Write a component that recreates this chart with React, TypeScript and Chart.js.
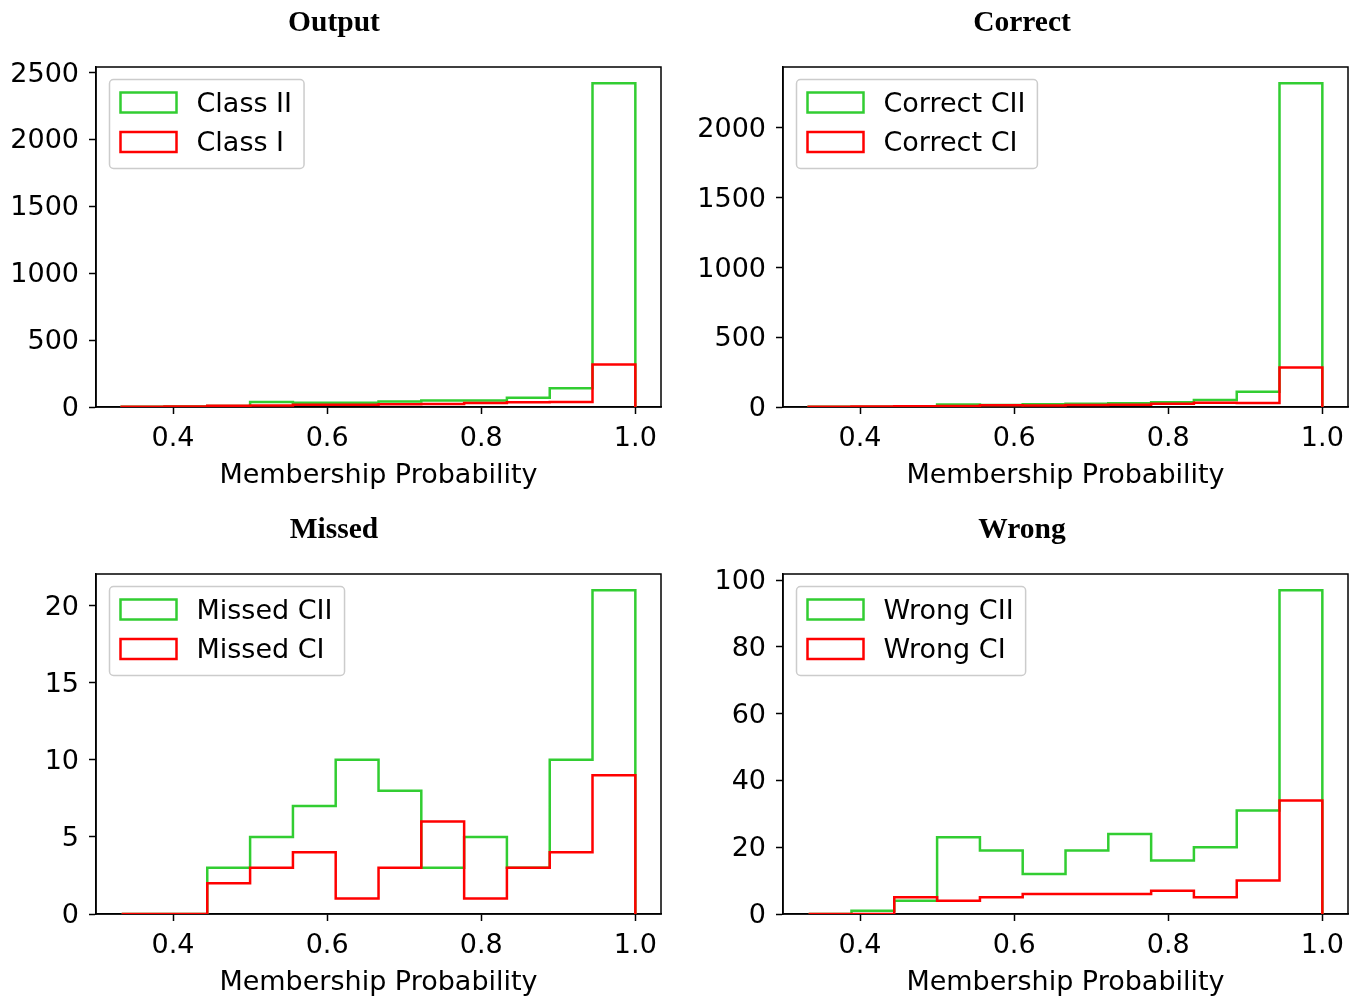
import { useEffect, useRef } from "react";
import { Chart, registerables } from "chart.js";

Chart.register(...registerables);

// ---- Data ----
const binEdges = [0.3333, 0.3889, 0.4444, 0.5, 0.5556, 0.6111, 0.6667, 0.7222, 0.7778, 0.8333, 0.8889, 0.9444, 1.0];
const xTickValues = [0.4, 0.6, 0.8, 1.0];

const outputClassII = [1, 3, 8, 38, 32, 31, 42, 48, 49, 70, 140, 2420];
const outputClassI = [1, 3, 10, 12, 17, 17, 20, 22, 30, 35, 38, 318];

const correctCII = [1, 2, 4, 18, 14, 19, 24, 27, 34, 50, 110, 2321];
const correctCI = [1, 3, 5, 8, 12, 11, 14, 16, 23, 30, 28, 284];

const missedCII = [0, 0, 3, 5, 7, 10, 8, 3, 5, 3, 10, 21];
const missedCI = [0, 0, 2, 3, 4, 1, 3, 6, 1, 3, 4, 9];

const wrongCII = [0, 1, 4, 23, 19, 12, 19, 24, 16, 20, 31, 97];
const wrongCI = [0, 0, 5, 4, 5, 6, 6, 6, 7, 5, 10, 34];

const outputYTicks = [0, 500, 1000, 1500, 2000, 2500];
const correctYTicks = [0, 500, 1000, 1500, 2000];
const missedYTicks = [0, 5, 10, 15, 20];
const wrongYTicks = [0, 20, 40, 60, 80, 100];

const panelTitles = ["Output", "Correct", "Missed", "Wrong"];
const xAxisLabel = "Membership Probability";

const GREEN = "#32CD32";
const RED = "#FF0000";
const FONT = "'DejaVu Sans', sans-serif";
const FS = 27;

type Panel = {
  title: string;
  labels: [string, string];
  cii: number[];
  ci: number[];
  yTicks: number[];
  left: number;
  top: number;
  width: number;
  height: number;
  padLeft: number;
  axisWidth: number;
  padRight: number;
};

const panels: Panel[] = [
  { title: panelTitles[0], labels: ["Class II", "Class I"], cii: outputClassII, ci: outputClassI, yTicks: outputYTicks, left: 0, top: 0, width: 668, height: 489, padLeft: 7, axisWidth: 89, padRight: 7 },
  { title: panelTitles[1], labels: ["Correct CII", "Correct CI"], cii: correctCII, ci: correctCI, yTicks: correctYTicks, left: 682, top: 0, width: 680, height: 489, padLeft: 14, axisWidth: 87, padRight: 14 },
  { title: panelTitles[2], labels: ["Missed CII", "Missed CI"], cii: missedCII, ci: missedCI, yTicks: missedYTicks, left: 0, top: 507, width: 668, height: 489, padLeft: 7, axisWidth: 89, padRight: 7 },
  { title: panelTitles[3], labels: ["Wrong CII", "Wrong CI"], cii: wrongCII, ci: wrongCI, yTicks: wrongYTicks, left: 682, top: 507, width: 680, height: 489, padLeft: 14, axisWidth: 87, padRight: 14 },
];

function stepPoints(values: number[]) {
  const pts: { x: number; y: number }[] = [{ x: binEdges[0], y: 0 }];
  values.forEach((v, i) => pts.push({ x: binEdges[i], y: v }));
  const last = values[values.length - 1];
  pts.push({ x: binEdges[binEdges.length - 1], y: last });
  pts.push({ x: binEdges[binEdges.length - 1], y: 0 });
  return pts;
}

const framePlugin = {
  id: "frameAndLegend",
  beforeDatasetsDraw(chart: any) {
    const { ctx, chartArea } = chart;
    ctx.save();
    ctx.strokeStyle = "#000";
    ctx.lineWidth = 1.5;
    ctx.strokeRect(chartArea.left, chartArea.top, chartArea.right - chartArea.left, chartArea.bottom - chartArea.top);
    ctx.restore();
  },
  afterDatasetsDraw(chart: any, _args: any, opts: any) {
    const { ctx, chartArea } = chart;
    ctx.save();
    const labels: string[] = opts.labels || [];
    const colors: string[] = opts.colors || [];
    ctx.font = `${FS}px ${FONT}`;
    const textW = Math.max(...labels.map((l) => ctx.measureText(l).width));
    const bx = chartArea.left + 13.5;
    const by = chartArea.top + 12.5;
    const bw = 11 + 56 + 21 + textW + 11;
    const bh = 89;
    const r = 4;
    ctx.beginPath();
    ctx.moveTo(bx + r, by);
    ctx.lineTo(bx + bw - r, by);
    ctx.arcTo(bx + bw, by, bx + bw, by + r, r);
    ctx.lineTo(bx + bw, by + bh - r);
    ctx.arcTo(bx + bw, by + bh, bx + bw - r, by + bh, r);
    ctx.lineTo(bx + r, by + bh);
    ctx.arcTo(bx, by + bh, bx, by + bh - r, r);
    ctx.lineTo(bx, by + r);
    ctx.arcTo(bx, by, bx + r, by, r);
    ctx.closePath();
    ctx.fillStyle = "rgba(255,255,255,0.8)";
    ctx.fill();
    ctx.strokeStyle = "#cccccc";
    ctx.lineWidth = 1.5;
    ctx.stroke();

    labels.forEach((lab, i) => {
      const cy = by + 23 + i * 39.5;
      ctx.strokeStyle = colors[i];
      ctx.lineWidth = 2.5;
      ctx.strokeRect(bx + 11, cy - 10, 56, 20);
      ctx.fillStyle = "#000";
      ctx.textBaseline = "middle";
      ctx.textAlign = "left";
      ctx.fillText(lab, bx + 11 + 56 + 20, cy + 2);
    });
    ctx.restore();
  },
};

function PanelChart({ p }: { p: Panel }) {
  const ref = useRef<HTMLCanvasElement>(null);
  useEffect(() => {
    if (!ref.current) return;
    const maxVal = Math.max(...p.cii, ...p.ci);
    const yMax = maxVal * 1.05;
    const chart = new Chart(ref.current, {
      type: "line",
      data: {
        datasets: [
          {
            label: p.labels[0],
            data: stepPoints(p.cii),
            borderColor: GREEN,
            borderWidth: 2.5,
            pointRadius: 0,
            fill: false,
            stepped: true,
            order: 1,
          },
          {
            label: p.labels[1],
            data: stepPoints(p.ci),
            borderColor: RED,
            borderWidth: 2.5,
            pointRadius: 0,
            fill: false,
            stepped: true,
            order: 0,
          },
        ],
      },
      options: {
        responsive: false,
        animation: false,
        events: [],
        layout: { padding: { left: p.padLeft, right: p.padRight, top: 0, bottom: 0 } },
        scales: {
          x: {
            type: "linear",
            min: 0.3,
            max: 1.0333,
            afterBuildTicks: (s: any) => {
              s.ticks = xTickValues.map((v) => ({ value: v }));
            },
            afterFit: (s: any) => {
              s.height = 82;
            },
            ticks: {
              color: "#000",
              font: { family: FONT, size: FS },
              padding: 9,
              maxRotation: 0,
              autoSkip: false,
              callback: (v: any) => Number(v).toFixed(1),
            },
            grid: { display: true, drawOnChartArea: false, drawTicks: true, tickLength: 7, tickColor: "#000", tickWidth: 1.5 },
            border: { display: true, color: "#000", width: 1.5 },
            title: {
              display: true,
              text: xAxisLabel,
              color: "#000",
              font: { family: FONT, size: FS },
              padding: { top: 0, bottom: -3 },
            },
          },
          y: {
            type: "linear",
            min: 0,
            max: yMax,
            afterBuildTicks: (s: any) => {
              s.ticks = p.yTicks.map((v) => ({ value: v }));
            },
            afterFit: (s: any) => {
              s.width = p.axisWidth;
            },
            ticks: {
              color: "#000",
              font: { family: FONT, size: FS },
              padding: 10,
              labelOffset: 2,
              autoSkip: false,
              callback: (v: any) => String(v),
            },
            grid: { display: true, drawOnChartArea: false, drawTicks: true, tickLength: 7, tickColor: "#000", tickWidth: 1.5 },
            border: { display: true, color: "#000", width: 1.5 },
          },
        },
        plugins: {
          legend: { display: false },
          tooltip: { enabled: false },
          title: {
            display: true,
            text: p.title,
            color: "#000",
            font: { family: "'Liberation Serif', 'Times New Roman', serif", size: 29.5, weight: "bold" },
            padding: { top: 6, bottom: 25.6 },
          },
          frameAndLegend: { labels: p.labels, colors: [GREEN, RED] },
        } as any,
      },
      plugins: [framePlugin],
    } as any);
    return () => chart.destroy();
  }, [p]);
  return (
    <canvas
      ref={ref}
      width={p.width}
      height={p.height}
      style={{ position: "absolute", left: p.left, top: p.top, width: p.width, height: p.height }}
    />
  );
}

export default function App() {
  return (
    <div style={{ position: "absolute", left: 0, top: 0, width: 1362, height: 996, background: "#fff" }}>
      {panels.map((p) => (
        <PanelChart key={p.title} p={p} />
      ))}
    </div>
  );
}
